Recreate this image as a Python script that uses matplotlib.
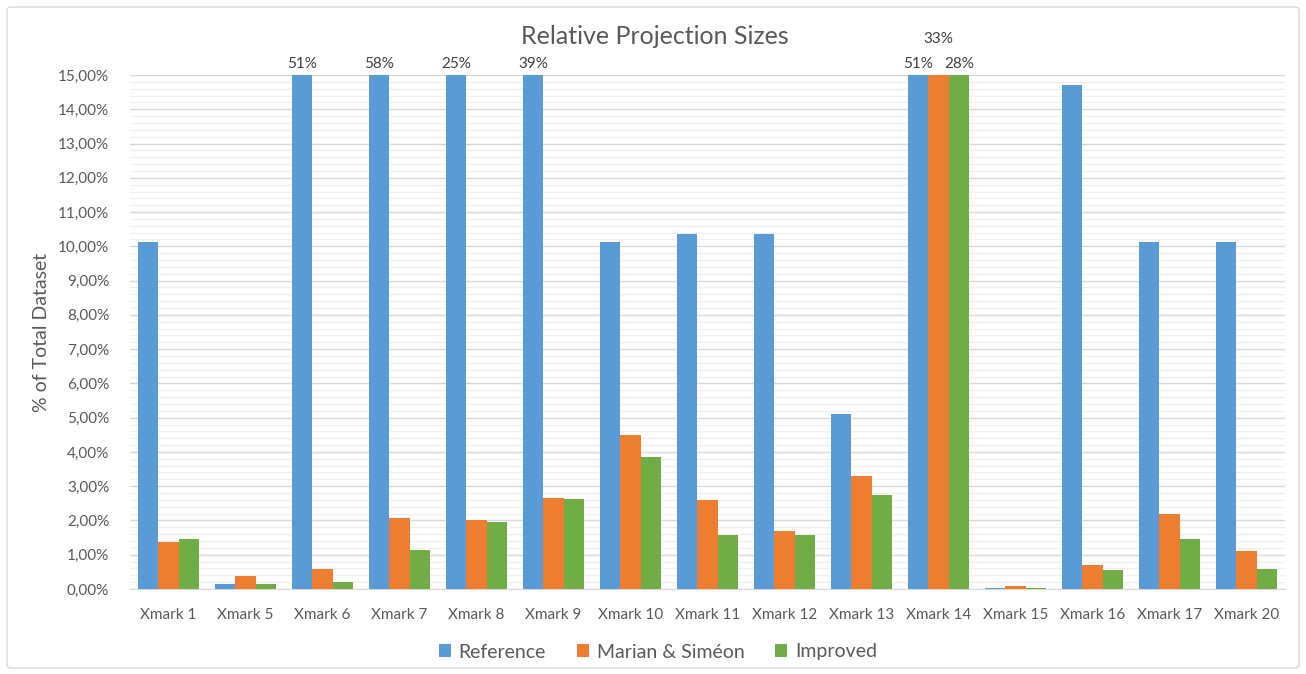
import matplotlib.pyplot as plt
import matplotlib.patches as mpatches
from matplotlib.ticker import FuncFormatter, MultipleLocator
import numpy as np

plt.rcParams['font.family'] = ['Lato', 'DejaVu Sans']

categories = ['Xmark 1', 'Xmark 5', 'Xmark 6', 'Xmark 7', 'Xmark 8', 'Xmark 9',
              'Xmark 10', 'Xmark 11', 'Xmark 12', 'Xmark 13', 'Xmark 14',
              'Xmark 15', 'Xmark 16', 'Xmark 17', 'Xmark 20']
reference = [10.13, 0.15, 51.0, 58.0, 25.0, 39.0, 10.13, 10.36, 10.36, 5.1,
             51.0, 0.03, 14.72, 10.13, 10.13]
marian = [1.37, 0.39, 0.59, 2.08, 2.0, 2.67, 4.48, 2.6, 1.68, 3.29,
          33.0, 0.09, 0.7, 2.2, 1.1]
improved = [1.45, 0.15, 0.2, 1.14, 1.96, 2.63, 3.84, 1.57, 1.57, 2.74,
            28.0, 0.04, 0.55, 1.45, 0.59]
series_names = ['Reference', 'Marian & Siméon', 'Improved']
colors = ['#5B9BD5', '#ED7D31', '#70AD47']
YMAX = 15.0

fig = plt.figure(figsize=(13.06, 6.74), dpi=100)
ax = fig.add_axes([130 / 1306, 1 - 589 / 674, 1155 / 1306, 514 / 674])

x = np.arange(len(categories))
w = 0.264
text_col = '#595959'

for k, (vals, name, col) in enumerate(zip([reference, marian, improved], series_names, colors)):
    pos = x + (k - 1) * w
    shown = [min(v, YMAX) for v in vals]
    ax.bar(pos, shown, width=w, color=col, label=name, zorder=3)
    for p, v in zip(pos, vals):
        if v > YMAX:
            dy = 0.12
            # the middle label of Xmark 14 sits higher to stay clear of its neighbours
            if k == 1:
                dy = 0.85
            ax.text(p, YMAX + dy, '%d%%' % round(v), ha='center', va='bottom',
                    fontsize=11, color='#404040', clip_on=False)

ax.set_xlim(-0.5, len(categories) - 0.5)
ax.set_ylim(0, YMAX)
ax.yaxis.set_major_locator(MultipleLocator(1))
ax.yaxis.set_minor_locator(MultipleLocator(0.2))
ax.yaxis.set_major_formatter(FuncFormatter(lambda v, _: ('%.2f%%' % v).replace('.', ',')))
ax.grid(axis='y', which='major', color='#D9D9D9', linewidth=1.0, zorder=0)
ax.grid(axis='y', which='minor', color='#F0F0F0', linewidth=1.0, zorder=0)
ax.set_axisbelow(True)

ax.set_xticks(x)
ax.set_xticklabels(categories)
ax.tick_params(axis='x', length=0, pad=14, labelsize=11, labelcolor=text_col)
ax.tick_params(axis='y', which='both', length=0, pad=15, labelsize=11, labelcolor=text_col)
for s in ['top', 'right', 'left']:
    ax.spines[s].set_visible(False)
ax.spines['bottom'].set_color('#D9D9D9')

ax.set_ylabel('% of Total Dataset', fontsize=14, color=text_col, labelpad=6)
fig.text(655 / 1306, 1 - 37 / 674, 'Relative Projection Sizes', ha='center', va='center',
         fontsize=18, color=text_col)

leg = fig.legend(loc='center', bbox_to_anchor=(658 / 1306, 1 - 652 / 674), ncol=3,
                 frameon=False, fontsize=14, handlelength=0.6, handleheight=0.6,
                 columnspacing=1.6, handletextpad=0.4)
for t in leg.get_texts():
    t.set_color(text_col)

fig.patches.append(mpatches.FancyBboxPatch((7 / 1306, 6 / 674), 1292 / 1306, 661 / 674,
                                           boxstyle='round,pad=0,rounding_size=0.004',
                                           transform=fig.transFigure, fill=False,
                                           edgecolor='#D9D9D9', linewidth=1.0))

fig.savefig('out.png', dpi=100)
